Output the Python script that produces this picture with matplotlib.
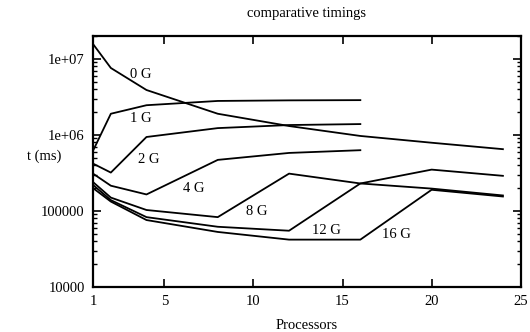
import numpy as np
import matplotlib
matplotlib.use("Agg")
import matplotlib.pyplot as plt
from matplotlib.ticker import FixedLocator, LogLocator, NullFormatter

plt.rcParams["font.family"] = ["Liberation Serif", "DejaVu Serif"]

# ---- data (processors vs time in ms) ----
procs = [1, 2, 4, 8, 12, 16, 20, 24]
t_0g = [1.57e7, 7.6e6, 3.9e6, 1.9e6, 1.31e6, 9.7e5, 7.9e5, 6.5e5]
t_1g = [6.2e5, 1.9e6, 2.46e6, 2.8e6, 2.85e6, 2.87e6]
t_2g = [4.2e5, 3.2e5, 9.4e5, 1.23e6, 1.35e6, 1.39e6]
t_4g = [3.1e5, 2.15e5, 1.65e5, 4.7e5, 5.8e5, 6.3e5]
t_8g = [2.4e5, 1.5e5, 1.03e5, 8.3e4, 3.1e5, 2.3e5, 3.5e5, 2.9e5]
t_12g = [2.2e5, 1.39e5, 8.3e4, 6.2e4, 5.5e4, 2.3e5, 1.97e5, 1.6e5]
t_16g = [2.0e5, 1.33e5, 7.6e4, 5.3e4, 4.2e4, 4.2e4, 1.9e5, 1.55e5]

series = [t_0g, t_1g, t_2g, t_4g, t_8g, t_12g, t_16g]
labels = ["0 G", "1 G", "2 G", "4 G", "8 G", "12 G", "16 G"]
label_x = [3.1, 3.05, 3.55, 6.05, 9.6, 13.3, 17.2]
label_y = [6.3e6, 1.64e6, 4.7e5, 2.0e5, 9.7e4, 5.6e4, 4.85e4]

fig = plt.figure(figsize=(5.30, 3.32), dpi=100)
ax = fig.add_axes([0.1755, 0.1355, 0.807, 0.756])

for ys in series:
    ax.plot(procs[:len(ys)], ys, color="black", lw=1.3)

for lab, lx, ly in zip(labels, label_x, label_y):
    ax.text(lx, ly, lab, fontsize=10.5, ha="left", va="center")

ax.set_yscale("log")
ax.set_xlim(1, 25)
ax.set_ylim(1e4, 2e7)
ax.xaxis.set_major_locator(FixedLocator([1, 5, 10, 15, 20, 25]))
ax.yaxis.set_major_locator(FixedLocator([1e4, 1e5, 1e6, 1e7]))
ax.yaxis.set_minor_locator(LogLocator(base=10, subs=np.arange(2, 10)))
ax.yaxis.set_minor_formatter(NullFormatter())
ax.set_yticklabels(["10000", "100000", "1e+06", "1e+07"])

ax.tick_params(which="major", direction="in", length=6, width=1.2,
               top=True, right=True, labelsize=10.5, pad=6)
ax.tick_params(which="minor", direction="in", length=3, width=1.0,
               top=True, right=True)
for s in ax.spines.values():
    s.set_linewidth(1.6)

ax.set_title("comparative timings", fontsize=10.5, pad=14)
ax.set_xlabel("Processors", fontsize=10.5, labelpad=8)
ax.set_ylabel("t (ms)", fontsize=10.5, rotation=0, labelpad=12, va="center")
ax.yaxis.set_label_coords(-0.115, 0.52)

fig.savefig("out.png", dpi=100)
